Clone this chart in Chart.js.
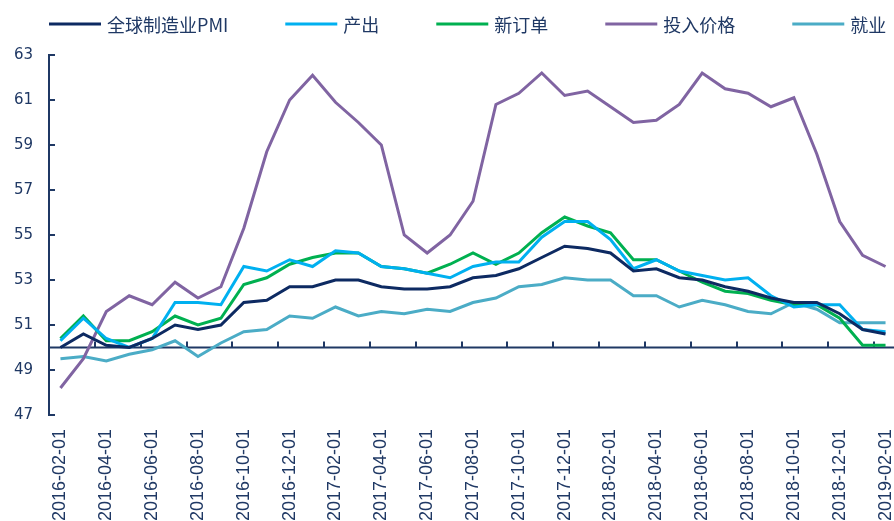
<!DOCTYPE html>
<html>
<head>
<meta charset="utf-8">
<script src="https://cdn.jsdelivr.net/npm/chart.js@4.4.0/dist/chart.umd.min.js"></script>
<style>
    html, body { margin: 0; padding: 0; background: #fff; overflow: hidden; }
    #wrap { width: 897px; height: 521px; position: relative; }
</style>
</head>
<body>
<div id="wrap"><canvas id="chart-pmi"></canvas></div>
<script>
const meses = [
    '2016-02-01', '2016-03-01', '2016-04-01', '2016-05-01', '2016-06-01', '2016-07-01', '2016-08-01',
    '2016-09-01', '2016-10-01', '2016-11-01', '2016-12-01', '2017-01-01', '2017-02-01', '2017-03-01',
    '2017-04-01', '2017-05-01', '2017-06-01', '2017-07-01', '2017-08-01', '2017-09-01', '2017-10-01',
    '2017-11-01', '2017-12-01', '2018-01-01', '2018-02-01', '2018-03-01', '2018-04-01', '2018-05-01',
    '2018-06-01', '2018-07-01', '2018-08-01', '2018-09-01', '2018-10-01', '2018-11-01', '2018-12-01',
    '2019-01-01', '2019-02-01'
];

const pmiGlobal = [50.0, 50.6, 50.1, 50.0, 50.4, 51.0, 50.8, 51.0, 52.0, 52.1, 52.7, 52.7, 53.0, 53.0, 52.7, 52.6, 52.6, 52.7, 53.1, 53.2, 53.5, 54.0, 54.5, 54.4, 54.2, 53.4, 53.5, 53.1, 53.0, 52.7, 52.5, 52.2, 52.0, 52.0, 51.5, 50.8, 50.6];
const produccion = [50.3, 51.3, 50.4, 50.0, 50.4, 52.0, 52.0, 51.9, 53.6, 53.4, 53.9, 53.6, 54.3, 54.2, 53.6, 53.5, 53.3, 53.1, 53.6, 53.8, 53.8, 54.9, 55.6, 55.6, 54.8, 53.5, 53.9, 53.4, 53.2, 53.0, 53.1, 52.3, 51.8, 51.9, 51.9, 50.8, 50.7];
const nuevosPedidos = [50.4, 51.4, 50.3, 50.3, 50.7, 51.4, 51.0, 51.3, 52.8, 53.1, 53.7, 54.0, 54.2, 54.2, 53.6, 53.5, 53.3, 53.7, 54.2, 53.7, 54.2, 55.1, 55.8, 55.4, 55.1, 53.9, 53.9, 53.4, 52.9, 52.5, 52.4, 52.1, 51.9, 51.9, 51.3, 50.1, 50.1];
const preciosInsumos = [48.2, 49.5, 51.6, 52.3, 51.9, 52.9, 52.2, 52.7, 55.3, 58.7, 61.0, 62.1, 60.9, 60.0, 59.0, 55.0, 54.2, 55.0, 56.5, 60.8, 61.3, 62.2, 61.2, 61.4, 60.7, 60.0, 60.1, 60.8, 62.2, 61.5, 61.3, 60.7, 61.1, 58.6, 55.6, 54.1, 53.6];
const empleo = [49.5, 49.6, 49.4, 49.7, 49.9, 50.3, 49.6, 50.2, 50.7, 50.8, 51.4, 51.3, 51.8, 51.4, 51.6, 51.5, 51.7, 51.6, 52.0, 52.2, 52.7, 52.8, 53.1, 53.0, 53.0, 52.3, 52.3, 51.8, 52.1, 51.9, 51.6, 51.5, 52.0, 51.7, 51.1, 51.1, 51.1];

const series = ['全球制造业PMI', '产出', '新订单', '投入价格', '就业'];
const yTicks = [47, 49, 51, 53, 55, 57, 59, 61, 63];

const navy = '#1f3864';
const colors = ['#0d2a62', '#00b0f0', '#00b050', '#8064a2', '#4bacc6'];

// eje en 50, marcas hacia dentro y leyenda propia
const decor = {
    id: 'decor',
    beforeDatasetsDraw(chart) {
        const { ctx, chartArea, scales } = chart;
        const x = scales.x, y = scales.y;
        const y50 = y.getPixelForValue(50);
        ctx.save();
        ctx.strokeStyle = navy;
        ctx.lineWidth = 2;
        ctx.beginPath();
        ctx.moveTo(chartArea.left, y50);
        ctx.lineTo(chartArea.right, y50);
        for (let i = 1; i + 1 < meses.length; i += 2) {
            const px = Math.round((x.getPixelForValue(i) + x.getPixelForValue(i + 1)) / 2);
            ctx.moveTo(px, y50);
            ctx.lineTo(px, y50 - 6);
        }
        yTicks.forEach(v => {
            const py = Math.round(y.getPixelForValue(v));
            ctx.moveTo(chartArea.left, py);
            ctx.lineTo(chartArea.left + 6, py);
        });
        ctx.stroke();
        ctx.restore();
    },
    afterDraw(chart) {
        const ctx = chart.ctx;
        let cx = 49;
        const cy = 24;
        ctx.save();
        ctx.font = '18px "Noto Sans CJK SC", "Noto Sans", sans-serif';
        ctx.textBaseline = 'middle';
        chart.data.datasets.forEach(ds => {
            ctx.strokeStyle = ds.borderColor;
            ctx.lineWidth = 3;
            ctx.beginPath();
            ctx.moveTo(cx, cy);
            ctx.lineTo(cx + 52, cy);
            ctx.stroke();
            ctx.fillStyle = navy;
            ctx.fillText(ds.label, cx + 58, cy + 1);
            cx += 58 + ctx.measureText(ds.label).width + 57;
        });
        ctx.restore();
    }
};

const valores = [pmiGlobal, produccion, nuevosPedidos, preciosInsumos, empleo];

new Chart(document.getElementById('chart-pmi'), {
    type: 'line',
    data: {
        labels: meses,
        datasets: series.map((s, i) => ({
            label: s,
            data: valores[i],
            borderColor: colors[i],
            backgroundColor: colors[i],
            borderWidth: 3,
            pointRadius: 0,
            tension: 0,
            fill: false,
        }))
    },
    options: {
        responsive: true,
        maintainAspectRatio: false,
        animation: false,
        layout: { padding: { top: 55, left: 0, right: 0, bottom: 0 } },
        plugins: {
            legend: { display: false },
            tooltip: { enabled: false },
        },
        scales: {
            x: {
                offset: true,
                afterFit: function (scale) {
                    scale.height = 106;
                    scale.paddingLeft = 0;
                    scale.paddingRight = 0;
                },
                grid: { display: false, drawTicks: false },
                border: { display: false },
                ticks: {
                    autoSkip: false,
                    maxRotation: 90,
                    minRotation: 90,
                    padding: 14,
                    color: navy,
                    font: { family: '"Liberation Sans", Arial, sans-serif', size: 18 },
                    callback: function (val, idx) { return idx % 2 === 0 ? meses[idx] : ''; }
                }
            },
            y: {
                min: 47,
                max: 63,
                afterFit: function (scale) { scale.width = 49; },
                grid: { display: false, drawTicks: false },
                border: { display: true, color: navy, width: 2 },
                afterBuildTicks: function (scale) { scale.ticks = yTicks.map(v => ({ value: v })); },
                ticks: {
                    padding: 16,
                    color: navy,
                    font: { family: '"DejaVu Sans", sans-serif', size: 15 }
                }
            }
        }
    },
    plugins: [decor]
});
</script>
</body>
</html>
